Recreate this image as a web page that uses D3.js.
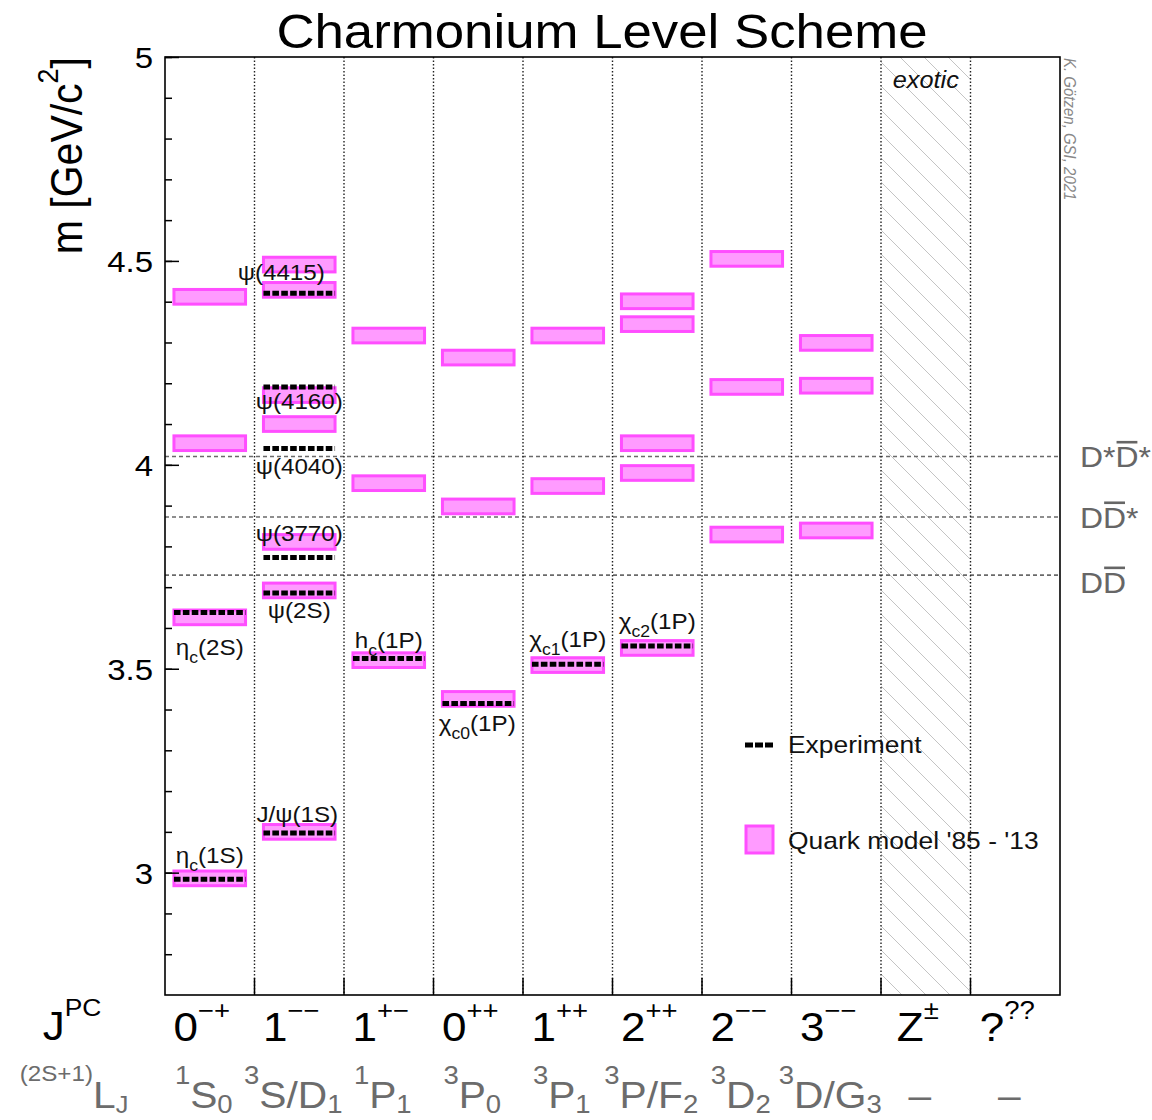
<!DOCTYPE html>
<html>
<head>
<meta charset="utf-8">
<script src="https://cdn.jsdelivr.net/npm/d3@7"></script>
<style>
  html, body { margin: 0; padding: 0; background: #fff; }
  svg { display: block; }
  text { font-family: "Liberation Sans", Arial, Helvetica, sans-serif; }
</style>
</head>
<body>
<svg id="chart" width="1152" height="1120"></svg>
<script>
// ---- quantum-number columns -------------------------------------------
// J^PC per column: [base, superscript]
const jpcLabels = [["0","−+"],["1","−−"],["1","+−"],["0","++"],["1","++"],
                   ["2","++"],["2","−−"],["3","−−"],["Z","±"],["?","??"]];
// spectroscopic term per column: [superscript, base, subscript]
const termLabels = [["1","S","0"],["3","S/D","1"],["1","P","1"],["3","P","0"],["3","P","1"],
                    ["3","P/F","2"],["3","D","2"],["3","D/G","3"],["","–",""],["","–",""]];
const exoticCol = 8;

// ---- mass axis (GeV/c^2) ----------------------------------------------
const massRange = [2.7, 5.0];
const majorTicks = [3, 3.5, 4, 4.5, 5];
const minorTicks = [2.8, 2.9, 3.0, 3.1, 3.2, 3.3, 3.4, 3.5, 3.6, 3.7, 3.8, 3.9, 4.0,
                    4.1, 4.2, 4.3, 4.4, 4.5, 4.6, 4.7, 4.8, 4.9, 5.0];

// ---- quark-model predictions: [column, low mass, high mass] -------------
const modelBands = [
  [0, 4.394, 4.430], [0, 4.035, 4.071], [0, 3.608, 3.644], [0, 2.968, 3.004],
  [1, 4.473, 4.509], [1, 4.411, 4.447], [1, 4.153, 4.189], [1, 4.082, 4.118],
  [1, 3.793, 3.829], [1, 3.674, 3.710], [1, 3.082, 3.118],
  [2, 4.299, 4.335], [2, 3.937, 3.973], [2, 3.503, 3.539],
  [3, 4.245, 4.281], [3, 3.880, 3.916], [3, 3.408, 3.444],
  [4, 4.299, 4.335], [4, 3.930, 3.966], [4, 3.491, 3.527],
  [5, 4.383, 4.419], [5, 4.327, 4.363], [5, 4.035, 4.071], [5, 3.962, 3.998], [5, 3.533, 3.569],
  [6, 4.487, 4.523], [6, 4.173, 4.209], [6, 3.811, 3.847],
  [7, 4.281, 4.317], [7, 4.176, 4.212], [7, 3.821, 3.857]
];

// ---- measured states ----------------------------------------------------
const expStates = [
  { id: "etac1S", col: 0, m: 2.984, name: [["η"],["c","sub"],["(1S)"]] },
  { id: "etac2S", col: 0, m: 3.638, name: [["η"],["c","sub"],["(2S)"]] },
  { id: "jpsi",   col: 1, m: 3.097, name: [["J/ψ(1S)"]] },
  { id: "psi2S",  col: 1, m: 3.686, name: [["ψ(2S)"]] },
  { id: "psi3770",col: 1, m: 3.773, name: [["ψ(3770)"]] },
  { id: "psi4040",col: 1, m: 4.040, name: [["ψ(4040)"]] },
  { id: "psi4160",col: 1, m: 4.191, name: [["ψ(4160)"]] },
  { id: "psi4415",col: 1, m: 4.421, name: [["ψ(4415)"]] },
  { id: "hc",     col: 2, m: 3.525, name: [["h"],["c","sub"],["(1P)"]] },
  { id: "chic0",  col: 3, m: 3.415, name: [["χ"],["c0","sub"],["(1P)"]] },
  { id: "chic1",  col: 4, m: 3.511, name: [["χ"],["c1","sub"],["(1P)"]] },
  { id: "chic2",  col: 5, m: 3.556, name: [["χ"],["c2","sub"],["(1P)"]] }
];

// ---- open-charm thresholds ---------------------------------------------
const thresholds = [
  { m: 4.0205, name: [["D*"],["D","bar"],["*"]] },
  { m: 3.872,  name: [["D"],["D","bar"],["*"]] },
  { m: 3.7296, name: [["D"],["D","bar"]] }
];

// ---- layout ---------------------------------------------------------------
const W = 1152, H = 1120;
const frame = { left: 165, right: 1060, top: 57, bottom: 995 };
const SX = 1.1;   // horizontal glyph stretch used for all lettering
const pinkFill = "#ff9bff", pinkEdge = "#ff4eff";

// label placement relative to (column centre, mass) : [dx, dy]
const labelOffset = {
  etac1S: [0, -16], etac2S: [0, 43], jpsi: [-2, -11], psi2S: [0, 25],
  psi3770: [0, -16], psi4040: [0, 25], psi4160: [0, 22], psi4415: [-18, -13],
  hc: [0, -11], chic0: [-1, 28], chic1: [0, -17], chic2: [0, -17]
};
const thresholdLabelDy = [11, 11, 18];

const svg = d3.select("#chart");
svg.append("rect").attr("width", W).attr("height", H).attr("fill", "#fff");

const y = d3.scaleLinear().domain(massRange).range([frame.bottom, frame.top]);
const x = d3.scaleBand().domain(d3.range(jpcLabels.length)).range([frame.left, frame.right]);
const bw = x.bandwidth();
const cx = i => x(i) + bw / 2;

// rich text: segments [text, kind, size]; kind = sup | sub | bar
function rich(parent, px, py, segs, o) {
  const g = parent.append("g")
    .attr("transform", `translate(${px},${py}) scale(${SX},1)` + (o.rotate ? ` rotate(${o.rotate})` : ""));
  const t = g.append("text")
    .attr("text-anchor", o.anchor || "middle")
    .attr("font-size", o.size)
    .attr("fill", o.color || "#000");
  if (o.italic) t.attr("font-style", "italic");
  let shift = 0, idx = 0;
  const bars = [];
  segs.forEach(([str, kind, sz]) => {
    const target = kind === "sup" ? (o.supShift ?? -0.6 * o.size)
                 : kind === "sub" ? (o.subShift ?? 0.3 * o.size) : 0;
    const ts = t.append("tspan").attr("dy", target - shift).text(str);
    if (kind === "sup" || kind === "sub") ts.attr("font-size", sz || o.small);
    if (kind === "bar") bars.push([idx, [...str].length]);
    shift = target;
    idx += [...str].length;
  });
  bars.forEach(([i, n]) => {
    const a = t.node().getExtentOfChar(i), b = t.node().getExtentOfChar(i + n - 1);
    const yy = -o.size * 0.716 - 4.5;
    g.append("line")
      .attr("x1", a.x + 1).attr("x2", b.x + b.width - 1)
      .attr("y1", yy).attr("y2", yy)
      .attr("stroke", o.color || "#000").attr("stroke-width", 2.6);
  });
  return g;
}

// ---- exotic column hatching ---------------------------------------------
const ex = x(exoticCol);
svg.append("clipPath").attr("id", "exClip").append("rect")
  .attr("x", ex).attr("y", frame.top).attr("width", bw).attr("height", frame.bottom - frame.top);
const hatch = svg.append("g").attr("clip-path", "url(#exClip)");
const span = frame.bottom - frame.top;
d3.range(-45, 6).forEach(k => {
  const x0 = ex + 19 + 24 * k;
  hatch.append("line")
    .attr("x1", x0).attr("y1", frame.top).attr("x2", x0 + span).attr("y2", frame.bottom)
    .attr("stroke", "#c4c4c4").attr("stroke-width", 1);
});

// ---- threshold lines --------------------------------------------------------
svg.append("g").selectAll("line").data(thresholds).join("line")
  .attr("x1", frame.left).attr("x2", frame.right)
  .attr("y1", d => y(d.m)).attr("y2", d => y(d.m))
  .attr("stroke", "#6a6a6a").attr("stroke-width", 1.6).attr("stroke-dasharray", "4,3");

// ---- column separators --------------------------------------------------------
const seps = d3.range(1, jpcLabels.length);
svg.append("g").selectAll("line").data(seps).join("line")
  .attr("x1", d => x(d)).attr("x2", d => x(d))
  .attr("y1", frame.top).attr("y2", frame.bottom)
  .attr("stroke", "#222").attr("stroke-width", 1.4).attr("stroke-dasharray", "1.4,2.1");

// ---- quark-model bands ----------------------------------------------------
svg.append("g").selectAll("rect").data(modelBands).join("rect")
  .attr("x", d => x(d[0]) + 0.1 * bw)
  .attr("width", 0.8 * bw)
  .attr("y", d => y(d[2]))
  .attr("height", d => y(d[1]) - y(d[2]))
  .attr("fill", pinkFill).attr("stroke", pinkEdge).attr("stroke-width", 3);

// ---- measured masses --------------------------------------------------------
svg.append("g").selectAll("line").data(expStates).join("line")
  .attr("x1", d => x(d.col) + 0.1 * bw).attr("x2", d => x(d.col) + 0.9 * bw)
  .attr("y1", d => y(d.m)).attr("y2", d => y(d.m))
  .attr("stroke", "#000").attr("stroke-width", 5).attr("stroke-dasharray", "6.6,2.3");

// ---- state names ---------------------------------------------------------
const labels = svg.append("g");
expStates.forEach(d => {
  const [dx, dy] = labelOffset[d.id];
  rich(labels, cx(d.col) + dx, y(d.m) + dy, d.name,
       { size: 22, small: 16, subShift: 8, color: "#111" });
});

// ---- frame and axes -----------------------------------------------------------
svg.append("rect")
  .attr("x", frame.left).attr("y", frame.top)
  .attr("width", frame.right - frame.left).attr("height", frame.bottom - frame.top)
  .attr("fill", "none").attr("stroke", "#000").attr("stroke-width", 1.6);

const yMinor = svg.append("g").attr("transform", `translate(${frame.left},0)`)
  .call(d3.axisRight(y).tickValues(minorTicks).tickSize(7).tickFormat(""));
const yMajor = svg.append("g").attr("transform", `translate(${frame.left},0)`)
  .call(d3.axisRight(y).tickValues(majorTicks).tickSize(14).tickFormat(""));
[yMinor, yMajor].forEach(g => {
  g.select(".domain").remove();
  g.selectAll(".tick line").attr("stroke", "#000").attr("stroke-width", 1.5);
});

majorTicks.forEach(v => {
  rich(svg, frame.left - 12, y(v) + 11, [[String(v)]], { size: 30, anchor: "end" });
});

// bottom ticks at column boundaries
svg.append("g").selectAll("line").data(seps).join("line")
  .attr("x1", d => x(d)).attr("x2", d => x(d))
  .attr("y1", frame.bottom).attr("y2", frame.bottom - 17)
  .attr("stroke", "#000").attr("stroke-width", 1.5);

// axis title
rich(svg, 82, frame.top, [["m [GeV/c"], ["2", "sup"], ["]"]],
     { size: 41, small: 27, supShift: -22, anchor: "end", rotate: -90 });

// title
rich(svg, 602, 48, [["Charmonium Level Scheme"]], { size: 48 });

// column labels
rich(svg, 72, 1040, [["J"], ["PC", "sup"]], { size: 40, small: 24, supShift: -24 });
jpcLabels.forEach((l, i) => {
  rich(svg, cx(i) - 8, 1041, [[l[0]], [l[1], "sup"]], { size: 40, small: 25, supShift: -22 });
});
const gray = "#6c6c6c";
rich(svg, 74, 1108, [["(2S+1)", "sup", 22], ["L"], ["J", "sub", 23]],
     { size: 37, supShift: -27, subShift: 5, color: gray });
termLabels.forEach((l, i) => {
  const segs = [];
  if (l[0]) segs.push([l[0], "sup"]);
  segs.push([l[1]]);
  if (l[2]) segs.push([l[2], "sub"]);
  rich(svg, cx(i) - 6, 1108, segs, { size: 37, small: 25, supShift: -24, subShift: 5, color: gray });
});

// threshold names
thresholds.forEach((d, i) => {
  rich(svg, 1080, y(d.m) + thresholdLabelDy[i], d.name, { size: 29, anchor: "start", color: "#666" });
});

// exotic tag and credit
rich(svg, cx(exoticCol), 88, [["exotic"]], { size: 23, italic: true, color: "#111" });
rich(svg, 1064, 58, [["K. Götzen, GSI, 2021"]],
     { size: 15, anchor: "start", italic: true, color: "#888", rotate: 90 });

// ---- legend ----------------------------------------------------------------
svg.append("line")
  .attr("x1", 745).attr("x2", 773).attr("y1", 745).attr("y2", 745)
  .attr("stroke", "#000").attr("stroke-width", 5).attr("stroke-dasharray", "8,2");
rich(svg, 788, 753, [["Experiment"]], { size: 24, anchor: "start", color: "#111" });
svg.append("rect")
  .attr("x", 746).attr("y", 826).attr("width", 27).attr("height", 27)
  .attr("fill", pinkFill).attr("stroke", pinkEdge).attr("stroke-width", 3);
rich(svg, 788, 849, [["Quark model '85 - '13"]], { size: 24, anchor: "start", color: "#111" });
</script>
</body>
</html>
